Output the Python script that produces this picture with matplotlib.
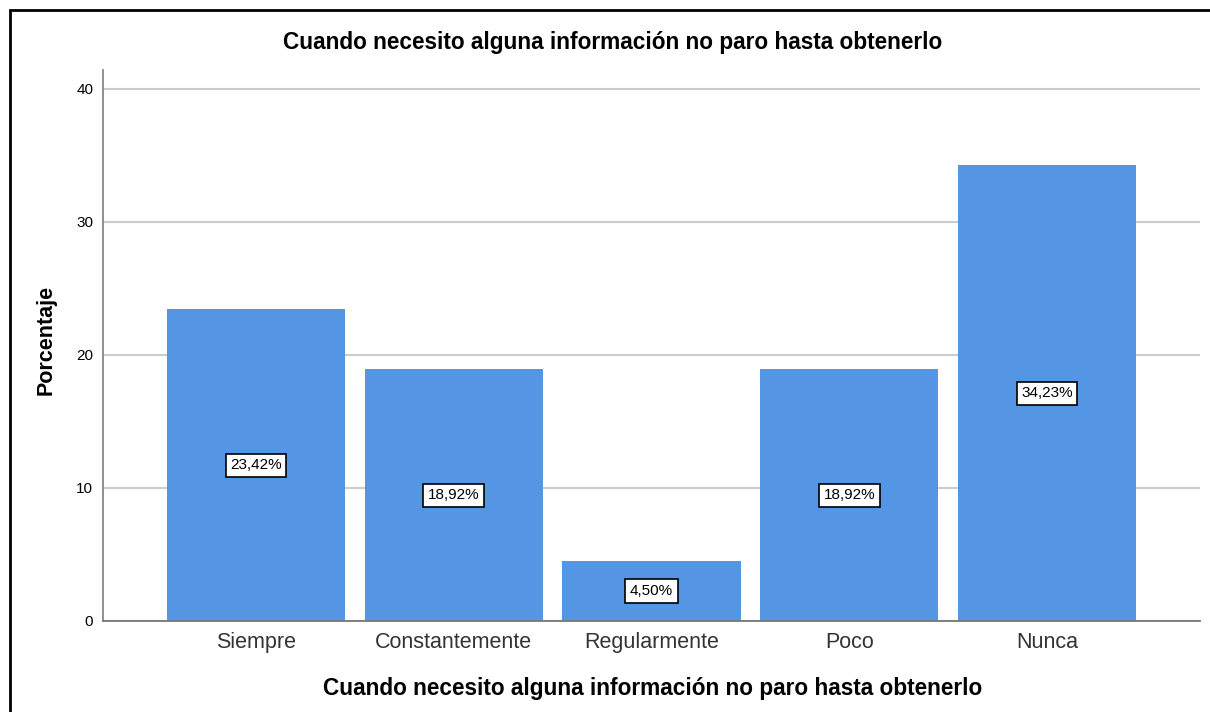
import matplotlib.pyplot as plt
from matplotlib.patches import Rectangle

categories = ["Siempre", "Constantemente", "Regularmente", "Poco", "Nunca"]
percentages = [23.42, 18.92, 4.50, 18.92, 34.23]
yticks = [0, 10, 20, 30, 40]
title = "Cuando necesito alguna información no paro hasta obtenerlo"

plt.rcParams["font.family"] = ["Liberation Sans", "DejaVu Sans"]

fig = plt.figure(figsize=(12.1, 7.12), dpi=100)
ax = fig.add_axes([103 / 1210, 1 - 621 / 712, 1097 / 1210, 551 / 712])

x = range(len(categories))
ax.bar(x, percentages, width=0.9, color="#5596E4", zorder=2)
for i, v in zip(x, percentages):
    ax.text(i, v / 2, f"{v:.2f}%".replace(".", ","), ha="center", va="center",
            fontsize=11, color="black", zorder=3,
            bbox=dict(boxstyle="square,pad=0.3", fc="white", ec="black", lw=1.2))

ax.set_xlim(-0.773, 4.773)
ax.set_ylim(0, 41.4)
ax.set_yticks(yticks)
ax.set_xticks(list(x))
ax.set_xticklabels(categories, fontsize=15.5, color="#333333")
ax.tick_params(axis="both", length=0)
ax.tick_params(axis="x", pad=8)
ax.tick_params(axis="y", labelsize=11, pad=7)
ax.yaxis.grid(True, color="#cccccc", lw=1.5, zorder=0)
ax.set_axisbelow(True)
for s in ["top", "right"]:
    ax.spines[s].set_visible(False)
ax.spines["left"].set_color("#888888")
ax.spines["bottom"].set_color("#777777")
ax.spines["left"].set_linewidth(1.3)
ax.spines["bottom"].set_linewidth(1.3)

fig.text(613 / 1210, 1 - 43 / 712, title, ha="center", va="center",
         fontsize=16.3, fontweight="bold")
fig.text(653 / 1210, 1 - 688 / 712, title, ha="center", va="center",
         fontsize=16.3, fontweight="bold")
fig.text(46 / 1210, 1 - 340 / 712, "Porcentaje", ha="center", va="center",
         rotation=90, fontsize=15.5, fontweight="bold")

fig.patches.append(Rectangle((10 / 1210, -0.1), 1.2, 1 - 10 / 712 + 0.1,
                             transform=fig.transFigure, fill=False,
                             ec="black", lw=2, zorder=10))

fig.savefig("out.png", dpi=100)
